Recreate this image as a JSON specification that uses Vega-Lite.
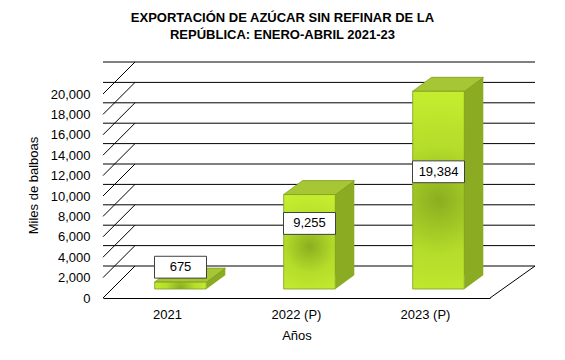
{
  "$schema": "https://vega.github.io/schema/vega-lite/v6.json",
  "width": 387,
  "height": 204,
  "autosize": {"type": "none"},
  "padding": {"left": 103, "top": 94, "right": 75, "bottom": 62},
  "background": "white",
  "config": {
    "view": {"stroke": null},
    "font": "Liberation Sans",
    "axisY": {
      "grid": false, "domain": false, "ticks": false, "labelOverlap": false, "labelSeparation": 0,
      "labelPadding": 13, "labelFontSize": 13, "labelColor": "#000000", "labelFont": "Liberation Sans",
      "titleFontSize": 13, "titleFontWeight": "normal", "titleColor": "#000000", "titleFont": "Liberation Sans",
      "titleX": -70, "titleY": 91, "titleAngle": -90, "titleBaseline": "middle", "titleAlign": "center"
    }
  },
  "title": {
    "text": ["EXPORTACIÓN  DE  AZÚCAR  SIN REFINAR  DE  LA", "REPÚBLICA:  ENERO-ABRIL  2021-23"],
    "font": "Liberation Sans",
    "fontSize": 13,
    "fontWeight": "bold",
    "color": "#000000",
    "anchor": "middle",
    "lineHeight": 17,
    "dx": -14,
    "offset": 20
  },
  "datasets": {
    "exports": [
      {"year": "2021", "value": 675},
      {"year": "2022 (P)", "value": 9255},
      {"year": "2023 (P)", "value": 19384}
    ],
    "grid": [
      {"value": 0}, {"value": 2000}, {"value": 4000}, {"value": 6000}, {"value": 8000}, {"value": 10000},
      {"value": 12000}, {"value": 14000}, {"value": 16000}, {"value": 18000}, {"value": 20000}
    ]
  },
  "layer": [
    {
      "data": {"name": "grid"},
      "mark": {"type": "rule", "color": "#000000", "strokeWidth": 1, "xOffset": 45, "x2Offset": 32, "yOffset": -32},
      "encoding": {
        "y": {
          "field": "value", "type": "quantitative",
          "scale": {"domain": [0, 20000], "nice": false},
          "axis": {"values": [0, 2000, 4000, 6000, 8000, 10000, 12000, 14000, 16000, 18000, 20000], "labelExpr": "format(datum.value, ',')", "title": "Miles de balboas", "labelOverlap": false, "tickCount": 11}
        }
      }
    },
    {
      "data": {"name": "grid"},
      "mark": {"type": "rule", "color": "#000000", "strokeWidth": 1, "y2Offset": -32},
      "encoding": {
        "y": {"field": "value", "type": "quantitative",
          "axis": {"values": [0, 2000, 4000, 6000, 8000, 10000, 12000, 14000, 16000, 18000, 20000], "labelExpr": "format(datum.value, ',')", "title": "Miles de balboas", "labelOverlap": false, "tickCount": 11}},
        "y2": {"field": "value"},
        "x": {"value": 0},
        "x2": {"value": 32}
      }
    },
    {
      "data": {"name": "grid"},
      "transform": [{"filter": "datum.value == 0"}],
      "mark": {"type": "rule", "color": "#000000", "strokeWidth": 1, "y2Offset": -32},
      "encoding": {
        "y": {"field": "value", "type": "quantitative",
          "axis": {"values": [0, 2000, 4000, 6000, 8000, 10000, 12000, 14000, 16000, 18000, 20000], "labelExpr": "format(datum.value, ',')", "title": "Miles de balboas", "labelOverlap": false, "tickCount": 11}},
        "y2": {"field": "value"},
        "x": {"value": 387},
        "x2": {"value": 432}
      }
    },
    {
      "data": {"name": "exports"},
      "mark": {"type": "bar", "color": "#8aab22", "xOffset": 32, "x2Offset": 32, "yOffset": -23, "y2Offset": -23},
      "encoding": {
        "x": {
          "field": "year", "type": "nominal", "sort": null,
          "scale": {"paddingInner": 0.6, "paddingOuter": 0.3},
          "axis": {
            "labelAngle": 0, "domain": true, "domainColor": "#000000", "ticks": false,
            "labelPadding": 10, "labelFontSize": 13, "labelColor": "#000000", "labelFont": "Liberation Sans",
            "title": "Años", "titleFontSize": 13, "titleFontWeight": "normal", "titleColor": "#000000",
            "titleFont": "Liberation Sans", "titleY": 37, "titleBaseline": "middle"
          }
        },
        "y": {"field": "value", "type": "quantitative",
          "axis": {"values": [0, 2000, 4000, 6000, 8000, 10000, 12000, 14000, 16000, 18000, 20000], "labelExpr": "format(datum.value, ',')", "title": "Miles de balboas", "labelOverlap": false, "tickCount": 11}}
      }
    },
    {
      "data": {"name": "exports"},
      "mark": {
        "type": "point", "shape": "M0.52,-0.28L0.9,-0.28L0.52,0Z", "size": 10000, "filled": true,
        "fill": "#8aab22", "strokeWidth": 0, "opacity": 1, "xOffset": 13, "yOffset": -9
      },
      "encoding": {
        "x": {"field": "year", "type": "nominal", "sort": null},
        "y": {"datum": 0, "type": "quantitative"}
      }
    },
    {
      "data": {"name": "exports"},
      "mark": {
        "type": "point", "shape": "M-0.52,0L0.52,0L0.9,-0.28L-0.14,-0.28Z", "size": 10000, "filled": true,
        "fill": "#a7c636", "stroke": "#7f9e1e", "strokeWidth": 0.7, "opacity": 1, "xOffset": 13, "yOffset": -9
      },
      "encoding": {
        "x": {"field": "year", "type": "nominal", "sort": null},
        "y": {"field": "value", "type": "quantitative",
          "axis": {"values": [0, 2000, 4000, 6000, 8000, 10000, 12000, 14000, 16000, 18000, 20000], "labelExpr": "format(datum.value, ',')", "title": "Miles de balboas", "labelOverlap": false, "tickCount": 11}}
      }
    },
    {
      "data": {"name": "exports"},
      "mark": {
        "type": "bar", "stroke": "#7d9c1c", "strokeWidth": 0.8,
        "xOffset": 13, "x2Offset": 13, "yOffset": -9, "y2Offset": -9,
        "color": {
          "gradient": "radial", "x1": 0.5, "y1": 0.55, "x2": 0.5, "y2": 0.55, "r1": 0, "r2": 0.6,
          "stops": [
            {"offset": 0, "color": "#8aae20"},
            {"offset": 0.45, "color": "#b4dc2a"},
            {"offset": 1, "color": "#c8f030"}
          ]
        }
      },
      "encoding": {
        "x": {"field": "year", "type": "nominal", "sort": null},
        "y": {"field": "value", "type": "quantitative",
          "axis": {"values": [0, 2000, 4000, 6000, 8000, 10000, 12000, 14000, 16000, 18000, 20000], "labelExpr": "format(datum.value, ',')", "title": "Miles de balboas", "labelOverlap": false, "tickCount": 11}}
      }
    },
    {
      "data": {"name": "exports"},
      "transform": [{"calculate": "datum.value / 2 + 1800", "as": "labelPos"}],
      "mark": {
        "type": "point", "shape": "M-1,-0.42H1V0.42H-1Z", "size": 2704, "filled": true,
        "fill": "#ffffff", "stroke": "#404040", "strokeWidth": 1, "opacity": 1,
        "xOffset": 13, "yOffset": -9
      },
      "encoding": {
        "x": {"field": "year", "type": "nominal", "sort": null},
        "y": {"field": "labelPos", "type": "quantitative",
          "axis": {"values": [0, 2000, 4000, 6000, 8000, 10000, 12000, 14000, 16000, 18000, 20000], "labelExpr": "format(datum.value, ',')", "title": "Miles de balboas", "labelOverlap": false, "tickCount": 11}}
      }
    },
    {
      "data": {"name": "exports"},
      "transform": [{"calculate": "datum.value / 2 + 1800", "as": "labelPos"}],
      "mark": {"type": "text", "font": "Liberation Sans", "fontSize": 13, "color": "#000000", "baseline": "middle", "align": "center", "xOffset": 13, "yOffset": -9},
      "encoding": {
        "x": {"field": "year", "type": "nominal", "sort": null},
        "y": {"field": "labelPos", "type": "quantitative",
          "axis": {"values": [0, 2000, 4000, 6000, 8000, 10000, 12000, 14000, 16000, 18000, 20000], "labelExpr": "format(datum.value, ',')", "title": "Miles de balboas", "labelOverlap": false, "tickCount": 11}},
        "text": {"field": "value", "type": "quantitative", "format": ","}
      }
    }
  ]
}
